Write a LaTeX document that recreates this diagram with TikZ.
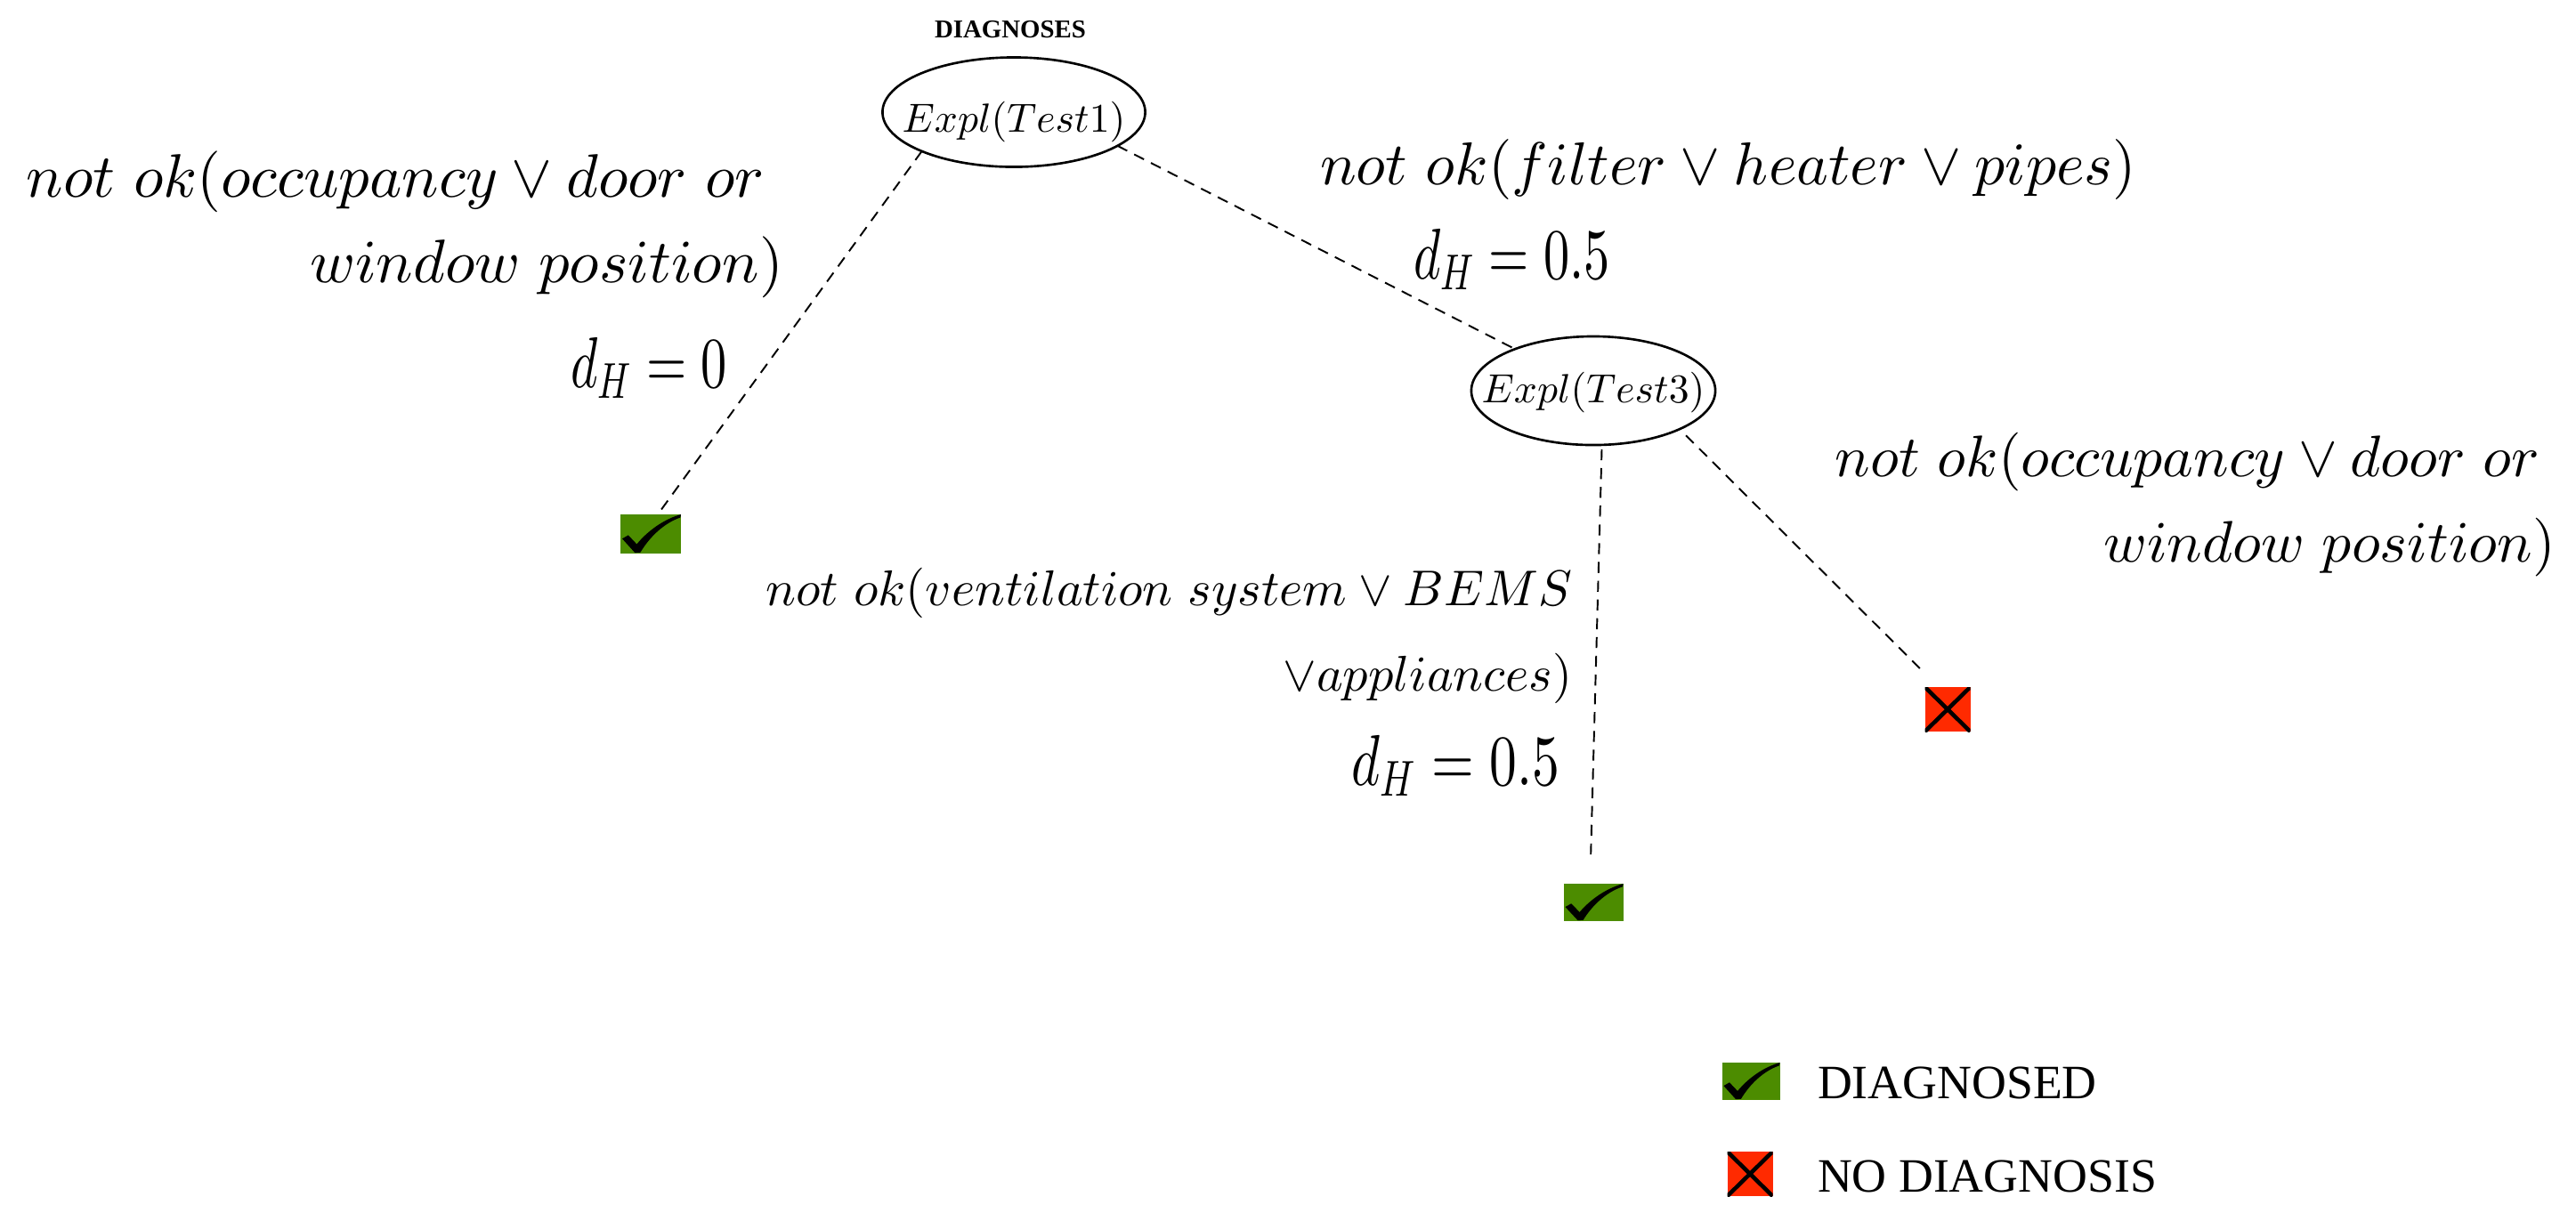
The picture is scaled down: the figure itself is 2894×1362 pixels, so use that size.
\RequirePackage{fix-cm}
\documentclass[tikz,border=0pt]{standalone}
\usepackage{fontspec}
\newfontfamily\timesfont{Liberation Serif}
\usepackage{graphicx}
\usetikzlibrary{shapes.geometric,calc}
\DeclareFontShape{OML}{cmm}{m}{it}{<-> cmmi10}{}
\DeclareFontShape{OMS}{cmsy}{m}{n}{<-> cmsy10}{}
\DeclareFontShape{OT1}{cmr}{m}{n}{<-> cmr10}{}
\definecolor{okgreen}{RGB}{76,140,0}
\definecolor{nored}{RGB}{255,42,0}
\newcommand\mycheck[3]{%
  \begin{scope}[shift={(#1.south west)},x=#2,y=#3]
    \fill[black, line join=round] (0.03,0.38) -- (0.13,0.47) -- (0.27,0.24)
      .. controls (0.45,0.58) and (0.72,0.88) .. (1.0,1.0) -- (0.99,0.92)
      .. controls (0.72,0.78) and (0.48,0.42) .. (0.33,0.03) -- (0.24,0.02) -- cycle;
  \end{scope}}
\begin{document}
\begin{tikzpicture}[x=0.01cm,y=-0.01cm,
  edge/.style={draw, line width=0.55pt, dash pattern=on 3.5pt off 2.5pt},
  expl/.style={draw, ellipse, line width=0.75pt, inner sep=0pt, outer sep=0pt},
  okbox/.style={rectangle, fill=okgreen, inner sep=0pt, outer sep=0pt},
  nobox/.style={rectangle, fill=nored, inner sep=0pt, outer sep=0pt,
    minimum width=0.51cm, minimum height=0.5cm,
    path picture={\draw[line width=1.3pt]
      (path picture bounding box.south west) -- (path picture bounding box.north east)
      (path picture bounding box.north west) -- (path picture bounding box.south east);}},
  lbl/.style={inner sep=0pt, outer sep=0pt},
  fA/.style={font=\fontsize{19.6}{24}\selectfont},
  fB/.style={font=\fontsize{19.3}{24}\selectfont},
  fC/.style={font=\fontsize{18.7}{23}\selectfont},
  fD/.style={font=\fontsize{16.05}{20}\selectfont},
  fH/.style={font=\fontsize{23}{28}\selectfont},
  legtext/.style={lbl, anchor=base west, font=\timesfont\fontsize{15.3}{18}\selectfont},
]
\useasboundingbox (0,0) rectangle (2894,1362);

\node[lbl, anchor=base, font=\timesfont\bfseries\fontsize{8.2}{10}\selectfont] (title) at (1135,42) {DIAGNOSES};

\node[expl, minimum width=2.95cm, minimum height=1.23cm] (t1) at (1139,126)
  {\raisebox{-0.22cm}[0pt][0pt]{\makebox[0pt]{\fontsize{13}{16}\selectfont$Expl(Test1)$}}};
\node[expl, minimum width=2.74cm, minimum height=1.22cm] (t2) at (1790,439)
  {\raisebox{-0.13cm}[0pt][0pt]{\makebox[0pt]{\fontsize{13}{16}\selectfont$Expl(Test3)$}}};

\node[okbox, minimum width=0.68cm, minimum height=0.44cm] (c1) at (731,600) {};
\node[okbox, minimum width=0.67cm, minimum height=0.42cm] (c2) at (1790,1014) {};
\node[nobox] (x1) at (2188,797) {};
\node[okbox, minimum width=0.65cm, minimum height=0.42cm] (lc) at (1967,1215) {};
\node[nobox] (lx) at (1966,1319) {};

\draw[edge] (t1.203) -- (c1.70);
\draw[edge] (t1.342) -- (t2.152);
\draw[edge, shorten <=0.05cm, shorten >=0.28cm] (t2.279) -- (c2.100);
\draw[edge, shorten <=0.1cm, shorten >=0.24cm] (t2.336) -- (x1.112);

\mycheck{c1}{0.68cm}{0.44cm}
\mycheck{c2}{0.67cm}{0.42cm}
\mycheck{lc}{0.65cm}{0.42cm}

% labels
\node[lbl, fA, anchor=base east] (a1) at (880,221) {$not\ ok(occupancy \vee door\ or\ $};
\node[lbl, fA, anchor=base east] (a2) at (880,317) {$window\ position)$};
\node[lbl, fH, anchor=base east] (a3) at (817,435) {\scalebox{0.72}[1]{$d_H=0$}};

\node[lbl, fB, anchor=base west] (b1) at (1483,207) {$not\ ok(filter \vee heater \vee pipes)$};
\node[lbl, fH, anchor=base west] (b2) at (1588,313) {\scalebox{0.72}[1]{$d_H=0.5$}};

\node[lbl, fC, anchor=base east] (cl1) at (2873,535) {$not\ ok(occupancy \vee door\ or\ $};
\node[lbl, fC, anchor=base east] (cl2) at (2871,631) {$window\ position)$};

\node[lbl, fD, anchor=base east] (d1) at (1766,680) {$not\ ok(ventilation\ system \vee BEMS$};
\node[lbl, fD, anchor=base east] (d2) at (1766,776) {$\vee appliances)$};
\node[lbl, fH, anchor=base east] (d3) at (1752,882) {\scalebox{0.76}[1]{$d_H=0.5$}};

\node[legtext] (ld) at (2042,1234) {DIAGNOSED};
\node[legtext] (ln) at (2042,1339) {NO DIAGNOSIS};
\end{tikzpicture}
\end{document}
